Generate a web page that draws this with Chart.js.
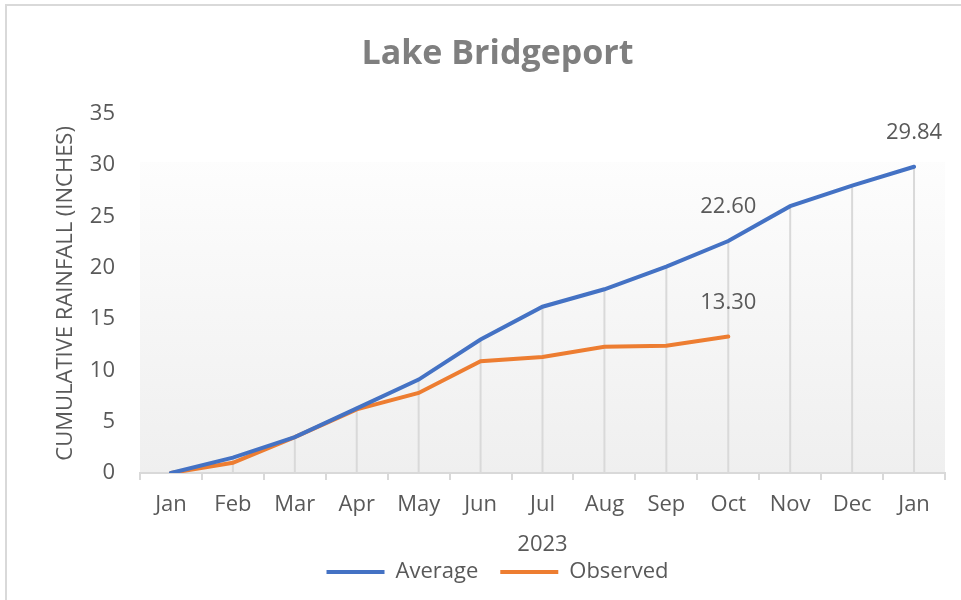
<!DOCTYPE html>
<html lang="en">
<head>
    <meta charset="UTF-8">
    <title>Lake Bridgeport</title>
    <script src="https://cdn.jsdelivr.net/npm/chart.js"></script>
    <style>
        html, body { margin: 0; padding: 0; background: #fff; }
        #wrap { width: 961px; height: 600px; position: relative; }
    </style>
</head>
<body>
<div id="wrap"><canvas id="rainChart"></canvas></div>

<script>
    const months = ['Jan', 'Feb', 'Mar', 'Apr', 'May', 'Jun', 'Jul', 'Aug', 'Sep', 'Oct', 'Nov', 'Dec', 'Jan'];
    const average = [0, 1.5, 3.5, 6.3, 9.1, 13.0, 16.2, 17.9, 20.1, 22.60, 26.0, 28.0, 29.84];
    const observed = [0, 1.0, 3.5, 6.2, 7.8, 10.9, 11.3, 12.3, 12.4, 13.30];
    const averageLabelAt = [9, 12];
    const observedLabelAt = [9];

    const textGray = '#595959';
    const lineGray = '#d9d9d9';

    // gray frame on top/left + gradient plot area
    const backdrop = {
        id: 'backdrop',
        beforeDraw(chart) {
            const {ctx, chartArea: a} = chart;
            ctx.save();
            ctx.fillStyle = lineGray;
            ctx.fillRect(5, 4, chart.width - 5, 2);
            ctx.fillRect(5, 4, 2, chart.height - 4);
            const g = ctx.createLinearGradient(0, a.top, 0, a.bottom);
            g.addColorStop(0, '#ffffff');
            g.addColorStop(1, '#efefef');
            ctx.fillStyle = g;
            ctx.fillRect(a.left, a.top + 48, a.right - a.left, a.bottom - a.top - 48);
            ctx.restore();
        }
    };

    // drop lines from the Average series down to the axis
    const dropLines = {
        id: 'dropLines',
        beforeDatasetsDraw(chart) {
            const {ctx} = chart;
            const bottom = chart.scales.y.getPixelForValue(0);
            ctx.save();
            ctx.strokeStyle = lineGray;
            ctx.lineWidth = 2;
            chart.getDatasetMeta(0).data.forEach(p => {
                ctx.beginPath();
                ctx.moveTo(p.x, p.y);
                ctx.lineTo(p.x, bottom);
                ctx.stroke();
            });
            ctx.restore();
        }
    };

    const valueLabels = {
        id: 'valueLabels',
        afterDatasetsDraw(chart) {
            const {ctx} = chart;
            ctx.save();
            ctx.font = '22px "Open Sans"';
            ctx.fillStyle = textGray;
            ctx.textAlign = 'center';
            ctx.textBaseline = 'middle';
            [[0, averageLabelAt], [1, observedLabelAt]].forEach(([di, idxs]) => {
                const meta = chart.getDatasetMeta(di);
                const vals = chart.data.datasets[di].data;
                idxs.forEach(i => {
                    const p = meta.data[i];
                    ctx.fillText(vals[i].toFixed(2), p.x, p.y - 34);
                });
            });
            ctx.restore();
        }
    };

    Chart.defaults.font.family = '"Open Sans", sans-serif';
    Chart.defaults.color = textGray;

    new Chart(document.getElementById('rainChart'), {
        type: 'line',
        data: {
            labels: months,
            datasets: [{
                label: 'Average',
                data: average,
                borderColor: '#4472C4',
                backgroundColor: '#4472C4',
                borderWidth: 4,
                borderCapStyle: 'round',
                pointRadius: 0,
                tension: 0
            }, {
                label: 'Observed',
                data: observed,
                borderColor: '#ED7D31',
                backgroundColor: '#ED7D31',
                borderWidth: 4,
                borderCapStyle: 'round',
                pointRadius: 0,
                tension: 0
            }]
        },
        options: {
            responsive: true,
            maintainAspectRatio: false,
            animation: false,
            layout: { padding: { left: 50, right: 16, top: 0, bottom: 7 } },
            plugins: {
                title: {
                    display: true,
                    text: 'Lake Bridgeport',
                    color: '#7f7f7f',
                    font: { size: 34, weight: 'bold' },
                    padding: { top: 34, bottom: 39 }
                },
                legend: {
                    position: 'bottom',
                    labels: {
                        usePointStyle: true,
                        pointStyle: 'line',
                        pointStyleWidth: 58,
                        font: { size: 22 },
                        color: textGray,
                        padding: 22
                    }
                },
                tooltip: { enabled: false }
            },
            scales: {
                x: {
                    offset: true,
                    grid: {
                        offset: true,
                        drawOnChartArea: false,
                        color: lineGray,
                        lineWidth: 2,
                        tickLength: 7
                    },
                    border: { color: lineGray, width: 2 },
                    ticks: { font: { size: 22 }, padding: 12, maxRotation: 0, autoSkip: false },
                    title: {
                        display: true,
                        text: '2023',
                        font: { size: 22 },
                        padding: { top: 0, bottom: -19 }
                    },
                    afterFit(scale) { scale.height = 66; }
                },
                y: {
                    min: 0,
                    max: 35,
                    ticks: { stepSize: 5, font: { size: 22 }, padding: 17 },
                    grid: { display: false },
                    border: { display: false },
                    title: {
                        display: true,
                        text: 'CUMULATIVE RAINFALL (INCHES)',
                        font: { size: 22 },
                        padding: { top: 3, bottom: 0 }
                    },
                    afterFit(scale) { scale.width = 90; }
                }
            }
        },
        plugins: [backdrop, dropLines, valueLabels]
    });
</script>
</body>
</html>
